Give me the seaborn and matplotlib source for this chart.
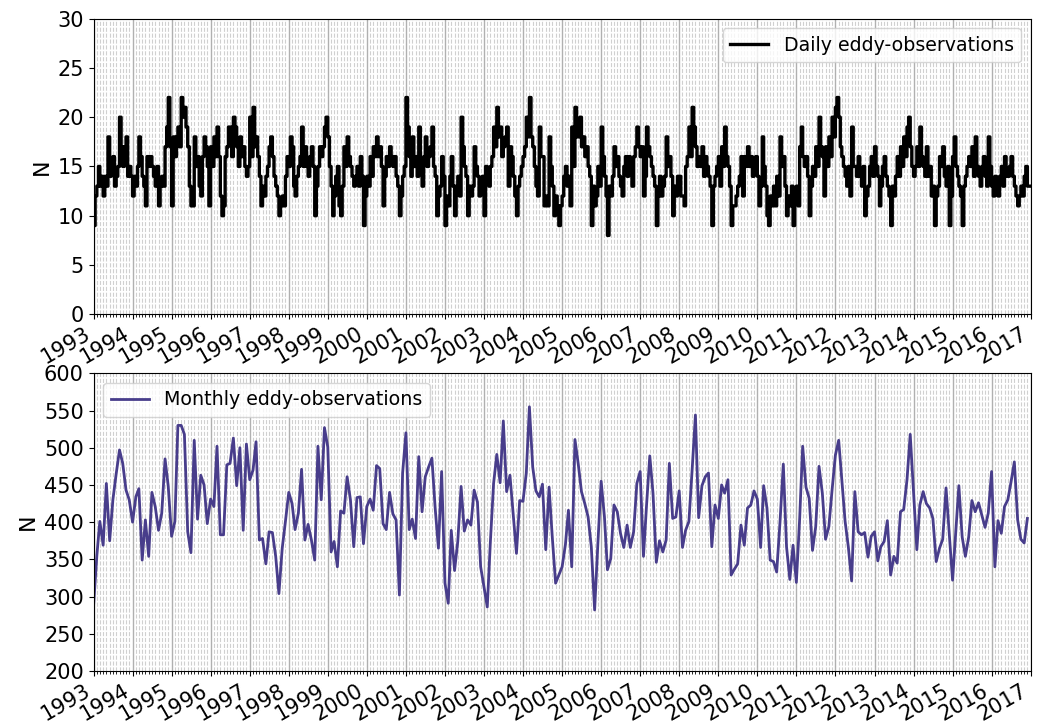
import numpy as np
import pandas as pd
import matplotlib
matplotlib.use("Agg")
import matplotlib.pyplot as plt
import matplotlib.dates as mdates
import seaborn as sns

# Monthly eddy-observation counts, Jan 1993 .. Dec 2016 (one row per year)
monthly_obs = [
    287, 355, 401, 369, 452, 375, 430, 465, 497, 479, 443, 430,  # 1993
    400, 434, 445, 349, 403, 354, 440, 421, 389, 412, 485, 448,  # 1994
    381, 401, 530, 530, 518, 387, 359, 510, 404, 463, 450, 398,  # 1995
    431, 421, 502, 383, 383, 477, 479, 513, 449, 500, 389, 505,  # 1996
    457, 470, 508, 376, 378, 344, 387, 386, 354, 304, 365, 401,  # 1997
    440, 425, 390, 412, 471, 376, 397, 376, 349, 502, 430, 527,  # 1998
    501, 360, 374, 340, 415, 412, 461, 430, 367, 433, 434, 371,  # 1999
    421, 431, 416, 476, 472, 398, 390, 440, 411, 403, 302, 466,  # 2000
    520, 390, 404, 378, 488, 414, 461, 474, 486, 420, 365, 468,  # 2001
    318, 291, 389, 335, 374, 448, 388, 403, 396, 443, 427, 340,  # 2002
    313, 286, 371, 452, 491, 453, 536, 441, 463, 411, 358, 429,  # 2003
    428, 466, 555, 474, 442, 434, 451, 363, 447, 380, 318, 329,  # 2004
    340, 370, 416, 340, 511, 478, 441, 425, 407, 367, 282, 370,  # 2005
    455, 407, 336, 351, 423, 414, 385, 366, 396, 366, 387, 452,  # 2006
    468, 354, 421, 489, 439, 346, 375, 360, 376, 479, 405, 407,  # 2007
    442, 366, 389, 401, 470, 544, 406, 449, 461, 466, 367, 423,  # 2008
    405, 450, 439, 457, 329, 337, 344, 396, 369, 419, 423, 442,  # 2009
    431, 366, 449, 419, 349, 347, 333, 400, 478, 367, 323, 369,  # 2010
    319, 405, 502, 447, 432, 362, 394, 475, 439, 377, 394, 443,  # 2011
    490, 510, 457, 401, 367, 321, 441, 387, 383, 386, 353, 381,  # 2012
    387, 348, 367, 374, 402, 329, 354, 345, 414, 417, 457, 518,  # 2013
    441, 363, 423, 441, 425, 419, 405, 347, 365, 377, 446, 385,  # 2014
    322, 389, 449, 380, 354, 380, 429, 414, 426, 410, 393, 412,  # 2015
    468, 340, 402, 385, 421, 430, 454, 481, 403, 377, 372, 405,  # 2016
]

# Daily eddy-observation counts sampled on the 1st and the 16th of each month
daily_day1 = [
    9, 13, 13, 12, 13, 14, 16, 14, 20, 15, 18, 15,
    12, 13, 18, 14, 11, 15, 15, 13, 11, 14, 17, 22,
    11, 16, 19, 22, 21, 17, 11, 18, 16, 12, 18, 15,
    17, 18, 19, 12, 11, 17, 19, 20, 17, 18, 17, 14,
    20, 21, 18, 14, 13, 14, 17, 16, 13, 10, 12, 14,
    15, 17, 12, 15, 19, 17, 14, 17, 10, 15, 16, 19,
    18, 13, 12, 15, 10, 17, 18, 15, 13, 15, 16, 9,
    14, 16, 17, 18, 17, 11, 16, 17, 15, 14, 10, 14,
    22, 16, 18, 16, 19, 13, 18, 16, 19, 14, 12, 16,
    9, 11, 16, 10, 14, 20, 15, 10, 12, 17, 14, 13,
    10, 14, 15, 19, 21, 19, 17, 19, 17, 14, 10, 14,
    16, 20, 22, 17, 13, 19, 16, 12, 18, 13, 12, 9,
    12, 15, 14, 19, 21, 18, 17, 16, 15, 9, 11, 15,
    19, 14, 8, 12, 17, 16, 13, 15, 14, 15, 16, 19,
    16, 12, 19, 16, 14, 9, 14, 13, 18, 16, 10, 12,
    14, 12, 15, 19, 21, 17, 16, 17, 16, 14, 9, 14,
    16, 17, 19, 15, 9, 11, 13, 16, 16, 17, 16, 15,
    14, 13, 15, 10, 12, 13, 14, 18, 16, 10, 11, 9,
    13, 17, 16, 16, 10, 15, 17, 20, 16, 17, 18, 20,
    21, 20, 16, 14, 15, 19, 15, 16, 13, 10, 13, 16,
    17, 14, 13, 16, 13, 9, 12, 16, 17, 18, 19, 17,
    14, 17, 19, 15, 17, 15, 13, 12, 16, 17, 13, 9,
    16, 15, 13, 9, 14, 16, 17, 18, 14, 15, 14, 18,
    13, 14, 12, 15, 16, 14, 16, 13, 11, 13, 14, 13,
]
daily_day16 = [
    12, 15, 14, 14, 18, 15, 13, 15, 17, 17, 14, 14,
    14, 15, 16, 13, 16, 16, 14, 15, 13, 13, 19, 17,
    18, 18, 17, 20, 19, 13, 11, 15, 13, 16, 17, 11,
    15, 16, 16, 10, 16, 19, 16, 19, 15, 16, 15, 15,
    16, 17, 16, 11, 12, 15, 18, 14, 12, 11, 11, 16,
    18, 13, 14, 16, 15, 15, 16, 15, 13, 17, 17, 20,
    15, 10, 14, 11, 13, 15, 16, 14, 14, 13, 14, 12,
    13, 14, 16, 16, 15, 14, 15, 16, 16, 13, 12, 15,
    19, 14, 15, 14, 15, 16, 15, 17, 15, 10, 13, 14,
    12, 14, 13, 13, 12, 17, 14, 13, 13, 15, 12, 14,
    15, 13, 16, 17, 18, 16, 18, 13, 16, 12, 13, 15,
    17, 18, 18, 15, 12, 16, 11, 11, 15, 10, 11, 11,
    14, 13, 11, 15, 18, 20, 18, 17, 14, 13, 12, 13,
    16, 12, 13, 14, 15, 14, 12, 16, 16, 13, 17, 17,
    17, 14, 17, 15, 13, 12, 12, 14, 15, 14, 13, 14,
    12, 11, 16, 16, 19, 15, 15, 14, 15, 13, 13, 15,
    13, 15, 16, 13, 11, 12, 14, 12, 15, 15, 14, 16,
    11, 18, 13, 9, 11, 11, 12, 15, 13, 12, 13, 12,
    11, 19, 15, 14, 13, 14, 15, 17, 12, 15, 16, 18,
    22, 17, 15, 13, 12, 15, 14, 14, 15, 12, 15, 14,
    15, 11, 15, 14, 12, 13, 14, 14, 15, 16, 20, 15,
    15, 15, 16, 14, 14, 12, 9, 13, 15, 14, 15, 12,
    18, 14, 12, 13, 15, 15, 14, 15, 13, 16, 13, 15,
    12, 13, 14, 13, 14, 15, 14, 12, 12, 12, 15, 13,
]

daily_label = "Daily eddy-observations"
monthly_label = "Monthly eddy-observations"
monthly_color = "#483d8b"

# Build the time axes
months = pd.date_range("1993-01-01", periods=len(monthly_obs), freq="MS")
half_dates, half_vals = [], []
for m, a, b in zip(months, daily_day1, daily_day16):
    half_dates += [m, m + pd.Timedelta(days=15)]
    half_vals += [a, b]
half_dates.append(pd.Timestamp("2016-12-31"))
half_vals.append(daily_day16[-1])

daily_df = pd.DataFrame({"date": half_dates, "N": half_vals})
monthly_df = pd.DataFrame({"date": months, "N": monthly_obs})

fig = plt.figure(figsize=(10.58, 7.25), dpi=100)
ax1 = fig.add_axes([0.0884, 0.5666, 0.8858, 0.4076])
ax2 = fig.add_axes([0.0884, 0.0745, 0.8858, 0.4106])

sns.lineplot(data=daily_df, x="date", y="N", ax=ax1, color="black",
             linewidth=2.4, drawstyle="steps-post", estimator=None,
             label=daily_label)
sns.lineplot(data=monthly_df, x="date", y="N", ax=ax2, color=monthly_color,
             linewidth=2.0, estimator=None, label=monthly_label)

xmin, xmax = pd.Timestamp("1993-01-01"), pd.Timestamp("2017-01-01")
for ax in (ax1, ax2):
    ax.set_xlim(xmin, xmax)
    ax.xaxis.set_major_locator(mdates.YearLocator())
    ax.xaxis.set_minor_locator(mdates.MonthLocator())
    ax.xaxis.set_major_formatter(mdates.DateFormatter("%Y"))
    ax.grid(which="major", axis="x", color="#b0b0b0", linewidth=1.0)
    ax.grid(which="minor", axis="x", color="#d0d0d0", linestyle="--",
            linewidth=0.8)
    ax.set_axisbelow(True)
    ax.set_xlabel("")
    ax.set_ylabel("N", fontsize=16)
    ax.tick_params(axis="both", which="major", labelsize=15)
    for lab in ax.get_xticklabels():
        lab.set_rotation(30)
        lab.set_ha("right")
    for s in ax.spines.values():
        s.set_color("black")

ax1.set_ylim(0, 30)
ax1.set_yticks(np.arange(0, 31, 5))
ax2.set_ylim(200, 600)
ax2.set_yticks(np.arange(200, 601, 50))

ax1.legend(loc="upper right", fontsize=13.7)
ax2.legend(loc="upper left", fontsize=13.7)

fig.savefig("out.png", dpi=100)
